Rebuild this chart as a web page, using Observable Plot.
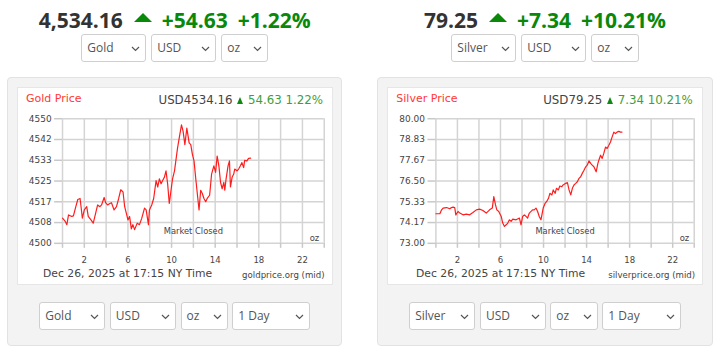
<!DOCTYPE html>
<html><head><meta charset="utf-8">
<script src="https://cdn.jsdelivr.net/npm/d3@7"></script>
<script src="https://cdn.jsdelivr.net/npm/@observablehq/plot@0.6"></script>
<style>
html,body{margin:0;padding:0;background:#fff;width:719px;height:355px;overflow:hidden;}
body{position:relative;font-family:"Open Sans",sans-serif;}
.col{position:absolute;top:0;width:335.4px;height:355px;}
.hdr{position:absolute;left:0;right:0;top:4.5px;height:30px;display:flex;justify-content:center;align-items:flex-start;white-space:nowrap;font-weight:700;font-size:21px;line-height:30px;}
.hdr .price{color:#333;}
.hdr .chg{color:#0a880a;margin-left:10px;}
.hdr .tri{width:0;height:0;border-left:9.2px solid transparent;border-right:9.2px solid transparent;border-bottom:9.4px solid #0a880a;margin-top:8.8px;margin-left:11px;}
.selrow{position:absolute;left:0;right:0;height:28px;display:flex;justify-content:center;}
.sel{position:relative;box-sizing:border-box;height:28px;border:1px solid #cfcfcf;border-radius:3px;background:#fff;font-size:12px;line-height:26px;color:#555;padding-left:5px;}
.sel svg{position:absolute;right:5px;top:11px;}
.panel{position:absolute;left:0;top:77px;width:335.4px;height:269px;box-sizing:border-box;background:#f3f3f3;border:1px solid #e2e2e2;border-radius:4px;}
.box{position:absolute;left:9px;top:9px;height:198px;box-sizing:border-box;background:#fff;border:1px solid #e6e6e6;}
.box .t{position:absolute;white-space:nowrap;font-family:"DejaVu Sans",sans-serif;}
.box svg.plotsvg{position:absolute;left:-1px;top:20px;}
.tri2{display:inline-block;width:0;height:0;border-left:3.3px solid transparent;border-right:3.3px solid transparent;border-bottom:7.3px solid #118811;margin:0 5px 0 4.5px;vertical-align:baseline;}
</style>
</head><body>
<script>
// ---------- data ----------
const metals = ["Gold", "Silver"];
const headlinePrices = ["4,534.16", "79.25"];
const headlineChanges = ["+54.63", "+7.34"];
const headlinePercents = ["+1.22%", "+10.21%"];
const chartTitles = ["Gold Price", "Silver Price"];
const chartPrices = ["USD4534.16", "USD79.25"];
const chartChanges = ["54.63 1.22%", "7.34 10.21%"];
const sources = ["goldprice.org (mid)", "silverprice.org (mid)"];
const timestampText = "Dec 26, 2025 at 17:15 NY Time";
const currencyOptions = ["USD"];
const unitOptions = ["oz"];
const rangeOptions = ["1 Day"];
const marketClosedLabel = "Market Closed";
const marketClosedHour = [12];
const unitLabel = "oz";

const gridHours = [0, 2, 4, 6, 8, 10, 12, 14, 16, 18, 20, 22, 24];
const hourLabels = [2, 6, 10, 14, 18, 22];

const goldTicks = [4500, 4508.333, 4516.667, 4525, 4533.333, 4541.667, 4550];
const goldTickLabels = ["4500", "4508", "4517", "4525", "4533", "4542", "4550"];
const silverTicks = [73, 74.1667, 75.3333, 76.5, 77.6667, 78.8333, 80];
const silverTickLabels = ["73.00", "74.17", "75.33", "76.50", "77.67", "78.83", "80.00"];

const goldHours = [0.00,0.25,0.40,0.55,0.85,1.00,1.22,1.40,1.61,1.70,1.82,2.00,2.22,2.36,2.61,2.82,3.04,3.22,3.43,3.58,3.82,3.95,4.13,4.34,4.49,4.73,4.95,5.15,5.34,5.55,5.70,5.85,6.00,6.15,6.31,6.45,6.61,6.85,7.06,7.27,7.52,7.67,7.88,7.97,8.18,8.36,8.58,8.73,8.88,9.04,9.18,9.34,9.49,9.64,9.79,9.95,10.09,10.27,10.55,10.70,10.91,11.06,11.22,11.40,11.52,11.61,11.76,11.91,12.06,12.22,12.36,12.52,12.67,12.82,12.97,13.13,13.27,13.49,13.67,13.88,14.04,14.18,14.34,14.49,14.64,14.79,14.88,15.00,15.18,15.31,15.40,15.55,15.70,15.79,16.00,16.15,16.31,16.45,16.61,16.70,16.91,17.06,17.25];
const goldPrices = [4510.1,4508.8,4507.5,4511.4,4510.8,4511.0,4514.7,4517.6,4518.0,4514.7,4510.1,4513.4,4514.7,4510.8,4509.4,4508.1,4512.1,4515.4,4514.7,4515.4,4518.4,4516.3,4515.4,4516.0,4516.3,4513.4,4514.7,4518.0,4521.5,4520.6,4514.7,4512.1,4509.4,4510.8,4505.8,4507.5,4505.5,4508.1,4507.5,4510.1,4514.1,4513.4,4507.5,4513.4,4515.4,4518.0,4525.2,4522.6,4525.9,4523.9,4525.2,4526.5,4529.1,4523.9,4516.0,4521.3,4525.9,4529.1,4538.3,4542.2,4547.5,4544.9,4539.6,4546.2,4542.9,4540.3,4539.6,4535.7,4533.1,4525.9,4520.0,4513.4,4521.3,4520.0,4518.0,4516.7,4518.0,4519.3,4527.8,4531.1,4528.5,4535.0,4531.1,4524.5,4521.9,4524.5,4521.3,4525.9,4531.1,4533.1,4522.6,4526.5,4527.8,4529.8,4529.1,4529.8,4531.1,4532.4,4530.4,4533.3,4533.1,4534.1,4534.16];

const silverHours = [0.00,0.37,0.53,0.67,0.99,1.29,1.45,1.60,1.75,1.85,2.06,2.22,2.52,2.83,3.14,3.44,3.76,4.06,4.37,4.68,4.99,5.24,5.38,5.54,5.66,5.84,6.07,6.21,6.37,6.53,6.68,6.83,6.99,7.14,7.45,7.76,7.91,8.06,8.22,8.37,8.52,8.68,8.98,9.14,9.30,9.45,9.60,9.76,9.97,10.16,10.28,10.46,10.59,10.78,10.90,11.08,11.20,11.38,11.51,11.70,11.82,12.07,12.22,12.37,12.53,12.68,12.83,12.99,13.14,13.30,13.45,13.60,13.76,13.92,14.06,14.22,14.38,14.52,14.68,14.89,15.05,15.14,15.30,15.45,15.60,15.76,15.91,16.07,16.22,16.37,16.53,16.68,16.83,16.99,17.15,17.29];
const silverPrices = [74.66,74.66,74.88,74.98,75.01,74.94,75.01,75.03,75.01,74.60,74.79,74.70,74.60,74.64,74.60,74.73,74.88,74.92,74.84,74.70,74.88,74.98,75.62,75.16,74.88,74.79,74.51,74.14,73.95,74.04,74.14,74.32,74.23,74.36,74.32,74.42,74.04,74.51,74.60,74.51,74.42,74.70,74.88,74.88,74.98,74.79,74.51,74.32,74.98,75.26,75.34,75.53,75.81,75.72,76.00,75.81,76.09,76.00,76.22,76.18,76.28,76.37,76.41,76.00,75.72,76.09,76.28,76.37,76.46,76.65,76.74,76.93,77.11,77.30,77.39,77.63,77.49,77.39,77.30,77.02,77.49,77.67,77.95,77.77,78.05,78.41,78.33,78.51,78.69,78.97,79.25,79.16,79.25,79.29,79.25,79.25];

// ---------- layout config ----------
const cols = [
  {left: 7, boxW: 316, mL: 45.3, mR: 7.3, hours: goldHours, prices: goldPrices, ticks: goldTicks, labels: goldTickLabels,
   topW: [65, 65, 47], botW: [66, 66, 47, 78], dateLeft: 26, srcRight: 7.5},
  {left: 377.3, boxW: 315.4, mL: 48.7, mR: 6.7, hours: silverHours, prices: silverPrices, ticks: silverTicks, labels: silverTickLabels,
   topW: [65, 65, 47.3], botW: [66, 65.7, 47.4, 78.4], dateLeft: 28.7, srcRight: 6.5}
];

function makeSelect(label, w, gap) {
  const d = document.createElement("div");
  d.className = "sel";
  d.style.width = w + "px";
  if (gap) d.style.marginLeft = gap + "px";
  d.innerHTML = `<span>${label}</span><svg width="9" height="6"><polyline points="1,1 4.5,4.5 8,1" fill="none" stroke="#555" stroke-width="1.2"/></svg>`;
  return d;
}

function makeChart(c) {
  const data = c.hours.map((h, i) => ({h, v: c.prices[i]}));
  const labelMap = new Map(c.ticks.map((t, i) => [t, c.labels[i]]));
  const svg = Plot.plot({
    width: c.boxW, height: 160,
    marginLeft: c.mL, marginRight: c.mR, marginTop: 10.3, marginBottom: 24.3,
    x: {domain: [0, 24], label: null},
    y: {domain: [c.ticks[0], c.ticks[c.ticks.length - 1]], label: null},
    style: {fontFamily: "DejaVu Sans, sans-serif", fontSize: "9px", color: "#444", background: "transparent", overflow: "visible"},
    marks: [
      Plot.gridX(gridHours, {stroke: "#d4d4d4", strokeOpacity: 1, strokeWidth: 1.5}),
      Plot.gridY(c.ticks, {stroke: "#d4d4d4", strokeOpacity: 1, strokeWidth: 1.5}),
      Plot.axisY(c.ticks, {label: null, tickFormat: d => labelMap.get(d), tickSize: 8, tickPadding: 3, stroke: "#c8c8c8", strokeWidth: 1.5, fill: "#444", fontSize: 9}),
      Plot.axisX(gridHours, {label: null, tickFormat: () => "", tickSize: 5, stroke: "#c8c8c8", strokeWidth: 1.5}),
      Plot.axisX(hourLabels, {label: null, tickSize: 0, tickPadding: 13.5, fill: "#444", fontSize: 8.6}),
      Plot.line(data, {x: "h", y: "v", stroke: "#ff1c1c", strokeWidth: 1.2}),
      Plot.text(marketClosedHour, {x: d => d, text: () => marketClosedLabel, frameAnchor: "bottom", lineAnchor: "middle", dy: -11.7, fill: "#444", fontSize: 8.4}),
      Plot.text([unitLabel], {text: d => d, frameAnchor: "bottom-right", textAnchor: "end", lineAnchor: "middle", dx: -5, dy: -4.7, fill: "#444", fontSize: 8.5})
    ]
  });
  svg.classList.add("plotsvg");
  return svg;
}

cols.forEach((c, k) => {
  const col = document.createElement("div");
  col.className = "col";
  col.style.left = c.left + "px";
  document.body.appendChild(col);

  const hdr = document.createElement("div");
  hdr.className = "hdr";
  hdr.innerHTML = `<span class="price">${headlinePrices[k]}</span><span class="tri"></span><span class="chg">${headlineChanges[k]}</span><span class="chg">${headlinePercents[k]}</span>`;
  col.appendChild(hdr);

  const top = document.createElement("div");
  top.className = "selrow";
  top.style.top = "34px";
  [metals[k], currencyOptions[0], unitOptions[0]].forEach((t, i) => top.appendChild(makeSelect(t, c.topW[i], i ? 5 : 0)));
  col.appendChild(top);

  const panel = document.createElement("div");
  panel.className = "panel";
  col.appendChild(panel);

  const box = document.createElement("div");
  box.className = "box";
  box.style.width = c.boxW + "px";
  panel.appendChild(box);

  const title = document.createElement("div");
  title.className = "t";
  title.style.cssText = "left:8px;top:3.9px;font-size:11px;line-height:14px;color:#ff3838;";
  title.textContent = chartTitles[k];
  box.appendChild(title);

  const val = document.createElement("div");
  val.className = "t";
  val.style.cssText = "right:9px;top:5.2px;font-size:11.8px;line-height:14px;color:#444;";
  val.innerHTML = `${chartPrices[k]}<span class="tri2"></span><span style="color:#3c9e3c">${chartChanges[k]}</span>`;
  box.appendChild(val);

  box.appendChild(makeChart(c));

  const date = document.createElement("div");
  date.className = "t";
  date.style.cssText = `left:${c.dateLeft - 1}px;top:179px;font-size:10.8px;line-height:14px;color:#444;`;
  date.textContent = timestampText;
  box.appendChild(date);

  const src = document.createElement("div");
  src.className = "t";
  src.style.cssText = `right:${c.srcRight}px;top:180.7px;font-size:8.6px;line-height:12px;color:#444;`;
  src.textContent = sources[k];
  box.appendChild(src);

  const bot = document.createElement("div");
  bot.className = "selrow";
  bot.style.top = "302px";
  [metals[k], currencyOptions[0], unitOptions[0], rangeOptions[0]].forEach((t, i) => bot.appendChild(makeSelect(t, c.botW[i], i ? 4.7 : 0)));
  col.appendChild(bot);
});
</script>
</body></html>
